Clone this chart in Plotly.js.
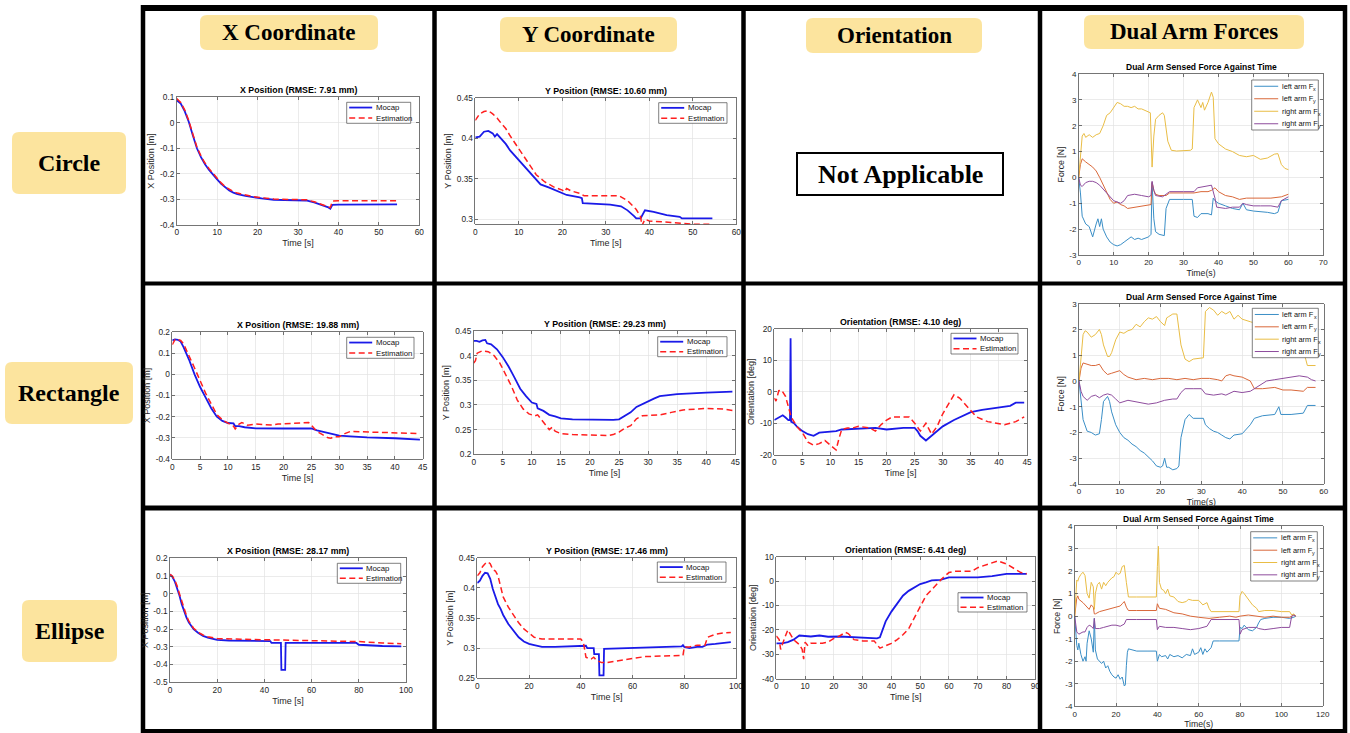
<!DOCTYPE html>
<html><head><meta charset="utf-8">
<script src="https://cdn.plot.ly/plotly-3.0.1.min.js"></script>
<style>html,body{margin:0;padding:0;background:#fff;overflow:hidden}#chart{width:1350px;height:733px}</style>
</head><body><div id="chart"></div>
<script>
// ---------- DATA ----------
const columnHeaders = ['X Coordinate', 'Y Coordinate', 'Orientation', 'Dual Arm Forces'];
const rowLabels = ['Circle', 'Rectangle', 'Ellipse'];
const notApplicableText = 'Not Applicable';
const seriesNames = ['Mocap', 'Estimation'];
const forceNames = ['left arm F', 'left arm F', 'right arm F', 'right arm F'];
const forceSubs = ['x', 'y', 'x', 'y'];
const panelTitles = [
  'X Position (RMSE: 7.91 mm)', 'Y Position (RMSE: 10.60 mm)', 'Dual Arm Sensed Force Against Time',
  'X Position (RMSE: 19.88 mm)', 'Y Position (RMSE: 29.23 mm)', 'Orientation (RMSE: 4.10 deg)', 'Dual Arm Sensed Force Against Time',
  'X Position (RMSE: 28.17 mm)', 'Y Position (RMSE: 17.46 mm)', 'Orientation (RMSE: 6.41 deg)', 'Dual Arm Sensed Force Against Time'
];

// Circle - X
const circX_t = [0,1,2,3,4,5,6,7,8,9,10,11,12,13,14,15,17,19,21,24,28,32,34,36,37.5,38,38.5,40,45,50,54.5];
const circX_mocap = [0.088,0.075,0.045,0.003,-0.05,-0.1,-0.135,-0.163,-0.185,-0.205,-0.222,-0.24,-0.255,-0.266,-0.274,-0.28,-0.287,-0.293,-0.297,-0.302,-0.304,-0.305,-0.312,-0.322,-0.332,-0.337,-0.322,-0.321,-0.32,-0.32,-0.32];
const circX_est = [0.095,0.08,0.05,0.008,-0.045,-0.095,-0.13,-0.158,-0.18,-0.2,-0.218,-0.236,-0.251,-0.262,-0.27,-0.276,-0.284,-0.29,-0.294,-0.299,-0.301,-0.302,-0.31,-0.32,-0.33,-0.333,-0.307,-0.306,-0.306,-0.306,-0.306];
// Circle - Y
const circY_mocap_t = [0,1,2,3,4,4.5,5,6,7,8,10,12,14,15,17,19,21,24,24.5,24.7,28,31,33.5,35,36.5,37,38,38.5,39,41,44,47,47.5,54.5];
const circY_mocap = [0.401,0.402,0.408,0.409,0.406,0.402,0.405,0.399,0.393,0.385,0.373,0.36,0.348,0.343,0.339,0.334,0.33,0.327,0.326,0.32,0.319,0.318,0.316,0.311,0.304,0.301,0.301,0.306,0.311,0.309,0.305,0.303,0.301,0.301];
const circY_est_t = [0,1,2,3,4,5,6,7,8,10,12,14,16,18,20,20.5,21,22,24,25,28,33,35,37,38,38.3,39,40,45,50,54.5];
const circY_est = [0.422,0.43,0.433,0.434,0.43,0.425,0.418,0.412,0.403,0.387,0.37,0.355,0.346,0.34,0.336,0.334,0.338,0.335,0.332,0.329,0.329,0.329,0.323,0.312,0.303,0.292,0.3,0.298,0.296,0.294,0.294];
// Circle - forces
const circF_lfx_t = [0,0.5,1,2,3,4,5,5.5,6,6.5,7,8,9,10,11,12,13,14,15,16,17,18,19,20,20.7,21,21.5,22,23,24.5,25,26,30,32.5,33,34,35,37,38,38.5,39,40,42,44,46,47,48,50,54,56,57,58,60];
const circF_lfx = [0,-0.6,-1.5,-1.8,-1.9,-2.3,-1.8,-1.6,-1.9,-1.6,-2.0,-2.3,-2.5,-2.6,-2.65,-2.6,-2.5,-2.4,-2.3,-2.4,-2.35,-2.4,-2.35,-2.3,-2.2,-0.2,-1.6,-2.1,-2.2,-2.25,-1.2,-0.85,-0.85,-0.85,-1.5,-1.55,-1.4,-1.4,-1.45,-0.8,-0.9,-1.0,-1.1,-1.2,-1.25,-1.0,-1.25,-1.3,-1.35,-1.4,-1.35,-0.9,-0.85];
const circF_lfy_t = [0,0.5,1,2,4,5,6,7,8,9,10,11,12,13,14,16,18,20,20.7,21,21.5,22,23,25,26,30,33,35,37,38,39,40,42,44,46,48,50,52,55,58,59,60];
const circF_lfy = [0,0.5,0.72,0.6,0.4,0.25,0,-0.3,-0.6,-0.85,-1.0,-0.95,-1.05,-1.1,-1.2,-1.15,-1.1,-1.05,-1.05,-0.2,-0.5,-0.65,-0.7,-0.7,-0.6,-0.6,-0.6,-0.55,-0.55,-0.5,-0.4,-0.55,-0.7,-0.75,-0.85,-0.8,-0.8,-0.8,-0.8,-0.75,-0.7,-0.65];
const circF_rfx_t = [0,0.5,1,1.5,2,3,4,5,6,7,8,9,10,11,12,13,14,15,16,17,18,19,20,20.5,21,21.5,22,23,24,24.5,25.5,26.5,28,32,32.5,33,34,35,35.5,36,37,38,38.5,39,40,42,44,46,48,50,52,54,56,57,58,59,60];
const circF_rfx = [0,1.0,1.6,1.7,1.55,1.65,1.55,1.65,1.7,2.0,2.4,2.5,2.7,2.9,2.85,2.75,2.75,2.7,2.75,2.65,2.65,2.6,2.55,2.5,0.4,1.6,2.25,2.4,2.5,2.4,1.4,1.05,1.02,1.05,1.1,2.7,3.0,2.7,2.9,2.6,2.9,3.3,3.1,1.5,1.3,1.1,1.0,0.85,0.8,0.85,0.7,0.75,0.9,0.92,0.5,0.35,0.3];
const circF_rfy_t = [0,0.5,1,2,3,4,5,6,8,10,12,13,14,16,18,20,20.7,21,21.5,22,24,25,26,30,33,34,36,38,39,39.5,42,44,46,47,48,50,52,55,57,58,60];
const circF_rfy = [0,-0.3,-0.35,-0.2,-0.15,-0.15,-0.2,-0.3,-0.6,-0.9,-1.0,-0.9,-0.7,-0.65,-0.7,-0.75,-0.7,-0.15,-0.5,-0.7,-0.75,-0.65,-0.55,-0.55,-0.55,-0.4,-0.35,-0.3,-0.8,-1.15,-1.2,-1.15,-1.15,-1.0,-1.05,-1.1,-1.1,-1.1,-1.15,-0.9,-0.75];

// Rectangle - X
const rectX_mocap_t = [0,0.5,1,1.5,2,3,4,5,6,7,8,9,10,11,11.3,12,13,15,20,25,26,28,30,32,35,40,44.5];
const rectX_mocap = [0.16,0.165,0.163,0.155,0.13,0.07,0.0,-0.06,-0.11,-0.16,-0.2,-0.22,-0.23,-0.232,-0.245,-0.245,-0.25,-0.255,-0.256,-0.256,-0.265,-0.277,-0.29,-0.293,-0.298,-0.302,-0.308];
const rectX_est_t = [0,0.5,1,1.5,2,3,4,5,6,7,8,9,10,11,11.3,12,12.5,13.5,15,18,19,22,24.5,25,26,27,28,28.5,29,30,31,32,35,40,44.5];
const rectX_est = [0.14,0.165,0.165,0.16,0.145,0.09,0.03,-0.03,-0.09,-0.14,-0.19,-0.215,-0.23,-0.245,-0.258,-0.235,-0.228,-0.24,-0.235,-0.24,-0.235,-0.233,-0.228,-0.24,-0.27,-0.285,-0.3,-0.302,-0.295,-0.295,-0.28,-0.27,-0.272,-0.275,-0.28];
// Rectangle - Y
const rectY_mocap_t = [0,0.5,1,1.5,2,2.3,3,4,5,6,7,8,9,10,10.8,11,12,13,14,15,17,20,24,25,26,27,28,29,30,31,32,35,40,44.5];
const rectY_mocap = [0.43,0.43,0.428,0.431,0.432,0.425,0.423,0.413,0.397,0.378,0.356,0.333,0.318,0.305,0.302,0.293,0.288,0.28,0.277,0.273,0.271,0.27,0.27,0.271,0.278,0.285,0.296,0.302,0.308,0.313,0.318,0.322,0.325,0.327];
const rectY_est_t = [0,0.3,0.6,1.5,2.5,3.5,4.5,5.5,6.5,7.5,8.5,9.5,10.5,11,12,12.5,13,13.5,14,15,17,20,23,24,25,26,27,28,29,30,32,34,36,40,43,44.5];
const rectY_est = [0.385,0.39,0.405,0.41,0.408,0.4,0.385,0.362,0.338,0.31,0.292,0.282,0.278,0.28,0.265,0.256,0.25,0.255,0.247,0.242,0.24,0.239,0.238,0.24,0.245,0.253,0.258,0.272,0.278,0.279,0.28,0.285,0.29,0.293,0.292,0.289];
// Rectangle - Orientation
const rectO_mocap_t = [0,0.5,1,1.5,2,2.5,2.8,2.9,3.0,3.5,4,5,6,7,8,9,10,11,12,15,18,20,23,25,25.5,26,27,28,29,30,32,34,35,37,40,42,43,44.5];
const rectO_mocap = [-9,-8.5,-7.8,-7.5,-8.2,-9,-9,17,-9.5,-10,-11,-12.5,-13.5,-14,-13,-12.8,-12.5,-12.5,-12,-11.8,-11.5,-12,-11.5,-11.5,-12.5,-14,-15.5,-14,-12.5,-11,-9,-7.5,-6.5,-5.8,-5,-4.5,-3.5,-3.5];
const rectO_est_t = [0,0.3,0.8,1.3,2,2.5,3,4,5,6,7,8,9,10,11,11.5,12,13,14,15,17,18,19,20,21,24,25,26,27,28,29,30,31,32,33,34,36,38,41,43,44.5];
const rectO_est = [-2,-3,0.3,0.5,-1.5,-5,-8,-11,-13,-16,-17,-16.5,-15.5,-17,-18.5,-15,-12,-11.5,-11.5,-11,-11.5,-12.5,-10.5,-9,-8,-8,-10,-12.5,-10,-13.5,-11,-7,-4,-1,-2,-4,-8,-9.5,-10.5,-9.5,-8];
// Rectangle - forces
const rectF_lfx_t = [0,0.5,1,2,3,4,5,5.5,6,7,7.5,8,9,10,11,12,13,14,15,16,17,18,19,20,20.5,21,21.5,22,23,24,24.5,25,26,27,28,30.5,31,32,33,34,35,36,37,38,40,42,43,45,48,49,49.5,52,55,56,58];
const rectF_lfx = [0,-0.8,-1.5,-1.95,-2.0,-2.1,-2.05,-1.5,-0.8,-0.6,-0.8,-1.2,-1.7,-2.0,-2.2,-2.3,-2.45,-2.55,-2.7,-2.8,-2.95,-3.1,-3.3,-3.35,-3.3,-3.0,-3.35,-3.35,-3.45,-3.4,-3.3,-2.2,-1.5,-1.3,-1.45,-1.45,-1.7,-1.85,-1.95,-2.0,-2.1,-2.2,-2.25,-2.1,-2.05,-1.7,-1.45,-1.35,-1.3,-1.0,-1.3,-1.3,-1.25,-0.95,-0.95];
const rectF_lfy_t = [0,0.5,1,2,3,4,5,6,7,8,9,10,11,12,14,16,18,20,22,24,26,28,30,32,34,35,36,37,38,40,42,43,45,48,50,52,55,56,58];
const rectF_lfy = [0,0.5,0.7,0.65,0.6,0.6,0.65,0.4,0.25,0.3,0.35,0.4,0.25,0.15,0.05,0.1,0.05,0.1,0.1,0.05,0.1,0.05,0.1,0.1,0.05,0.0,0.2,0.25,0.2,0.15,0.0,-0.3,-0.3,-0.25,-0.35,-0.35,-0.4,-0.25,-0.25];
const rectF_rfx_t = [0,0.5,1,1.5,2,3,3.5,4,5,5.5,6,7,7.5,8,9,10,11,12,13,14,15,16,17,18,19,20,21,21.5,22,23,24,25,26,27,28,30.5,31,32,33,34,35,36,37,38,39,40,42,44,48,52,55,56,58];
const rectF_rfx = [0,1.0,1.8,1.95,1.9,1.7,1.75,1.8,2.0,1.8,1.4,0.95,0.95,1.1,1.6,1.9,1.85,1.95,2.0,2.2,2.1,2.3,2.45,2.4,2.5,2.3,2.15,2.45,2.5,2.6,2.6,1.4,0.85,0.75,0.85,0.9,2.7,2.85,2.75,2.55,2.7,2.6,2.7,2.4,2.55,2.4,2.3,2.2,2.0,1.8,1.2,0.6,0.6];
const rectF_rfy_t = [0,0.5,1,2,3,4,5,6,7,8,9,10,12,14,16,17,19,21,23,24,25,26,28,30,31,33,35,36,38,40,42,44,46,48,50,52,54,56,57,58];
const rectF_rfy = [0,-0.4,-0.6,-0.75,-0.6,-0.55,-0.65,-0.55,-0.5,-0.55,-0.7,-0.85,-0.75,-0.8,-0.85,-0.9,-0.85,-0.75,-0.7,-0.7,-0.45,-0.3,-0.3,-0.3,-0.5,-0.55,-0.5,-0.55,-0.4,-0.45,-0.4,-0.2,0.0,0.05,0.1,0.15,0.2,0.15,0.05,0.0];

// Ellipse - X
const ellX_mocap_t = [0,1,2,3,4,5,6,7,8,9,10,12,14,16,18,20,25,30,35,40,42.5,43,47,47.2,48.8,49,60,70,79,80,85,90,98];
const ellX_mocap = [0.11,0.095,0.07,0.035,-0.01,-0.06,-0.1,-0.135,-0.163,-0.185,-0.2,-0.222,-0.238,-0.248,-0.255,-0.26,-0.264,-0.265,-0.265,-0.265,-0.267,-0.278,-0.278,-0.43,-0.43,-0.278,-0.278,-0.278,-0.278,-0.288,-0.292,-0.295,-0.297];
const ellX_est_t = [0,1,2,3,4,5,6,7,8,9,10,12,14,16,18,20,30,40,50,60,70,80,90,98];
const ellX_est = [0.11,0.1,0.078,0.045,0.0,-0.045,-0.088,-0.125,-0.155,-0.178,-0.195,-0.218,-0.233,-0.243,-0.249,-0.253,-0.257,-0.26,-0.263,-0.265,-0.267,-0.27,-0.278,-0.282];
// Ellipse - Y
const ellY_mocap_t = [0,1,2,3,4,5,6,7,8,9,10,12,14,16,18,20,22,25,30,35,40,42,42.5,45,45.2,47,47.2,48.8,49,55,60,70,79,79.5,80,82,85,87,89,92,95,98];
const ellY_mocap = [0.408,0.412,0.42,0.425,0.424,0.415,0.398,0.385,0.373,0.365,0.355,0.34,0.328,0.318,0.311,0.307,0.305,0.302,0.302,0.303,0.304,0.304,0.3,0.3,0.29,0.29,0.255,0.255,0.299,0.3,0.301,0.302,0.303,0.305,0.302,0.3,0.302,0.302,0.306,0.307,0.309,0.31];
const ellY_est_t = [0,1,2,3,4,5,6,7,8,9,10,12,14,16,18,20,22,25,30,35,40,41,42,43,44,45,46,47,48,50,55,60,65,70,79.5,80,82,85,88,89,92,95,98];
const ellY_est = [0.42,0.425,0.435,0.44,0.443,0.44,0.43,0.428,0.42,0.4,0.385,0.368,0.355,0.342,0.332,0.325,0.318,0.315,0.315,0.315,0.315,0.31,0.285,0.283,0.282,0.285,0.28,0.278,0.276,0.276,0.28,0.283,0.286,0.287,0.288,0.302,0.302,0.305,0.305,0.318,0.323,0.325,0.326];
// Ellipse - Orientation
const ellO_mocap_t = [0,2,4,6,8,10,12,15,18,22,26,30,34,35,36,37,38,40,42,44,46,48,50,52,54,57,60,65,70,75,80,87];
const ellO_mocap = [-25.5,-25.5,-25,-24,-22.3,-22.5,-22.7,-22.3,-22.8,-22.7,-23,-23,-23.3,-23.5,-23,-20,-16.5,-12.5,-9,-6,-4,-2.5,-1.2,-0.5,0.3,0.5,1.5,1.5,1.5,2,3,3];
const ellO_est_t = [0,1,1.5,2,3,4,5,6,7,8,9,9.5,10,11,12,16,18,20,22,24,25,27,30,34,35,36,38,40,42,44,46,48,50,52,54,56,58,60,62,65,68,70,74,77,80,85,87];
const ellO_est = [-22.5,-24,-28,-26,-23,-20,-22,-24,-25,-26,-28,-32,-25,-26.5,-25.5,-25.5,-25,-23.5,-22.5,-21,-21.5,-24,-24.5,-24.5,-26,-27.5,-26.5,-25.5,-24,-22,-19.5,-15,-10,-6,-3.5,-1,1.5,3.5,4,4,4,5.5,7,8.3,7,3.5,3];
// Ellipse - forces
const ellF_lfx_t = [0,0.5,1,1.5,2,3,4,5,5.5,6,7,8,9,9.5,10,11,12,13,14,15,16,17,18,19,20,21,22,23,24,24.5,25,25.5,26,30,35,39.5,40,41,42,44,45,46,48,50,52,54,56,57,58,60,61,62,63,64,66,67,70,75,79.5,80,81,82,84,86,88,89,90,92,96,100,104,106,107];
const ellF_lfx = [0,-0.8,-1.3,-1.5,-1.2,-1.7,-2.0,-1.8,-2.0,-1.2,-0.65,-1.0,-1.6,-0.1,-1.5,-1.9,-2.0,-2.1,-2.0,-2.3,-2.2,-2.45,-2.6,-2.7,-2.75,-2.6,-2.8,-2.7,-3.1,-3.05,-2.2,-1.6,-1.45,-1.55,-1.55,-1.55,-2.0,-1.7,-1.8,-1.75,-1.9,-1.7,-1.8,-1.75,-1.85,-1.7,-1.75,-1.45,-1.7,-1.6,-1.4,-1.7,-1.45,-1.6,-1.4,-1.1,-1.1,-1.1,-1.1,-0.5,-0.55,-0.4,-0.6,-0.65,-0.5,-0.3,-0.15,-0.1,-0.05,-0.05,-0.1,-0.05,0.0];
const ellF_lfy_t = [0,0.5,1,1.5,2,4,6,7,8,9,9.5,10,12,14,16,18,20,22,23,24,25,26,30,35,39.5,40,41,44,48,52,56,60,65,70,75,78,80,84,88,92,96,100,104,106,107];
const ellF_lfy = [0,0.4,0.8,0.9,0.75,0.6,0.4,0.3,0.5,0.4,0.1,0.1,0.2,0.25,0.3,0.35,0.4,0.45,0.55,0.65,0.4,0.25,0.25,0.25,0.25,0.55,0.35,0.3,0.15,0.1,0.0,-0.05,-0.1,-0.05,0.0,-0.05,0.0,0.05,0.0,-0.05,0.0,-0.05,-0.05,0.05,0.0];
const ellF_rfx_t = [0,0.5,1,1.5,2,3,4,5,6,7,8,9,9.5,10,11,12,13,14,15,16,17,18,19,20,21,22,23,24,25,26,30,35,39.5,40,40.5,41,42,43,44,45,46,48,50,52,54,55,57,60,62,64,65,66,70,75,79.5,80,81,82,84,86,88,89,92,96,100,104,105,106,107];
const ellF_rfx = [0,1.0,1.6,1.55,1.7,1.85,1.95,1.8,1.0,0.8,1.5,1.3,0.3,1.0,1.4,1.5,1.2,1.5,1.35,1.5,1.6,1.7,1.75,1.95,1.85,1.9,2.2,2.25,1.5,0.85,0.85,0.85,0.85,2.2,3.1,1.5,1.2,1.15,1.0,1.2,0.9,0.85,0.65,0.6,0.65,0.75,0.7,0.7,0.5,0.6,0.35,0.2,0.2,0.2,0.2,0.9,1.1,1.0,0.75,0.5,0.35,0.2,0.25,0.25,0.2,0.2,0.05,0.1,0.0];
const ellF_rfy_t = [0,0.5,1,2,3,4,5,6,7,8,9,9.5,10,12,14,16,18,20,22,24,25,30,35,39.5,40,41,44,48,52,56,60,64,66,70,75,79.5,80,81,84,88,89,92,96,100,104,105,106,107];
const ellF_rfy = [0,-0.5,-0.7,-0.8,-0.75,-0.7,-0.7,-0.5,-0.4,-0.45,-0.55,-0.1,-0.55,-0.55,-0.5,-0.45,-0.4,-0.4,-0.45,-0.35,-0.15,-0.15,-0.15,-0.15,-0.6,-0.45,-0.5,-0.5,-0.55,-0.6,-0.55,-0.45,-0.15,-0.15,-0.15,-0.15,-0.8,-0.6,-0.5,-0.5,-0.55,-0.6,-0.55,-0.5,-0.5,0.0,0.05,0.0];

// ---------- LAYOUT HELPERS ----------
const W = 1350, H = 733;
const px = x => x / W, py = y => 1 - y / H;
const SANS = 'Liberation Sans, Arial, sans-serif';
const SERIF = 'Liberation Serif, Times New Roman, serif';
const MOCAP_LINE = {color: '#1a1ae8', width: 1.8};
const EST_LINE = {color: '#ff1f1f', width: 1.5, dash: '6px,3.5px'};
const FORCE_COLORS = ['#3a8ec6', '#d9683a', '#e9bd45', '#8e4c9d'];

const panels = [
  {box:[176.7,97.3,419.3,224.7], xr:[0,60], xd:10, yr:[-0.4,0.1], yd:0.1, xt:'Time [s]', yt:'X Position [m]', leg:[346.7,102.3,410.7,123.3], fs:8.3},
  {box:[475.3,97.7,736.3,224.3], xr:[0,60], xd:10, yr:[0.2938,0.45], yd:0.05, xt:'Time [s]', yt:'Y Position [m]', leg:[658.7,102.7,727,123.3], fs:8.3},
  {box:[1078.7,74,1323.3,255], xr:[0,70], xd:10, yr:[-3,4], yd:1, xt:'Time(s)', yt:'Force [N]', leg:[1251.7,80,1318.3,130], fs:8, force:true},
  {box:[172.3,332,422.7,459], xr:[0,45], xd:5, yr:[-0.4,0.2], yd:0.1, xt:'Time [s]', yt:'X Position [m]', leg:[346.7,337.3,414,358.3], fs:8.3},
  {box:[473.7,331,735.3,454.3], xr:[0,45], xd:5, yr:[0.2,0.45], yd:0.05, xt:'Time [s]', yt:'Y Position [m]', leg:[657.7,336.7,727,356.7], fs:8.3},
  {box:[774.3,328.7,1027,454.7], xr:[0,45], xd:5, yr:[-20,20], yd:10, xt:'Time [s]', yt:'Orientation [deg]', leg:[951,333.3,1018,354], fs:8.3},
  {box:[1079,303.7,1323.7,484], xr:[0,60], xd:10, yr:[-4,3], yd:1, xt:'Time(s)', yt:'Force [N]', leg:[1252.3,308.3,1318.3,357.7], fs:8, force:true},
  {box:[170,558.3,406,682.3], xr:[0,100], xd:20, yr:[-0.5,0.2], yd:0.1, xt:'Time [s]', yt:'X Position [m]', leg:[337.3,563.3,400.7,583.3], fs:8.3},
  {box:[477.3,557.7,736,678.3], xr:[0,100], xd:20, yr:[0.25,0.45], yd:0.05, xt:'Time [s]', yt:'Y Position [m]', leg:[657.3,562,726,582.3], fs:8.3},
  {box:[776.3,556.7,1035.3,678.7], xr:[0,90], xd:10, yr:[-40,10], yd:10, xt:'Time [s]', yt:'Orientation [deg]', leg:[958,592.7,1027,612], fs:8.3},
  {box:[1074.7,526,1322.7,706.3], xr:[0,120], xd:20, yr:[-4,4], yd:1, xt:'Time(s)', yt:'Force [N]', leg:[1250.7,531.7,1317.3,581], fs:8, force:true}
];

const posSeries = [
  [0, circX_t, circX_mocap, circX_t, circX_est],
  [1, circY_mocap_t, circY_mocap, circY_est_t, circY_est],
  [3, rectX_mocap_t, rectX_mocap, rectX_est_t, rectX_est],
  [4, rectY_mocap_t, rectY_mocap, rectY_est_t, rectY_est],
  [5, rectO_mocap_t, rectO_mocap, rectO_est_t, rectO_est],
  [7, ellX_mocap_t, ellX_mocap, ellX_est_t, ellX_est],
  [8, ellY_mocap_t, ellY_mocap, ellY_est_t, ellY_est],
  [9, ellO_mocap_t, ellO_mocap, ellO_est_t, ellO_est]
];
const forceSeries = [
  [2, [[circF_lfx_t,circF_lfx],[circF_lfy_t,circF_lfy],[circF_rfx_t,circF_rfx],[circF_rfy_t,circF_rfy]]],
  [6, [[rectF_lfx_t,rectF_lfx],[rectF_lfy_t,rectF_lfy],[rectF_rfx_t,rectF_rfx],[rectF_rfy_t,rectF_rfy]]],
  [10, [[ellF_lfx_t,ellF_lfx],[ellF_lfy_t,ellF_lfy],[ellF_rfx_t,ellF_rfx],[ellF_rfy_t,ellF_rfy]]]
];

const sfx = i => (i === 0 ? '' : String(i + 1));
const traces = [], shapes = [], annotations = [];
const layout = {
  width: W, height: H, margin: {l:0, r:0, t:0, b:0, pad:0},
  paper_bgcolor: '#fff', plot_bgcolor: '#fff', showlegend: false,
  font: {family: SANS, color: '#262626'}
};

const measureCtx = document.createElement('canvas').getContext('2d');
function textWidth(t, size) { measureCtx.font = size + 'px "Liberation Sans", Arial, sans-serif'; return measureCtx.measureText(t).width; }

function ticks(range, d) {
  const vals = [];
  for (let k = Math.ceil(range[0] / d - 1e-6); k * d <= range[1] + 1e-9; k++) vals.push(Math.round(k * d * 1000) / 1000);
  return vals;
}
function axis(range, d, title, dom, anchor, fs) {
  const vals = ticks(range, d);
  return {
    domain: dom, anchor: anchor, range: range, autorange: false, fixedrange: true,
    tickmode: 'array', tickvals: vals, ticktext: vals.map(v => String(v)),
    showgrid: true, gridcolor: '#e2e2e2', gridwidth: 0.7, zeroline: false,
    showline: true, linecolor: '#3a3a3a', linewidth: 0.7, mirror: 'ticks',
    ticks: 'inside', ticklen: 3, tickwidth: 0.7, tickcolor: '#3a3a3a',
    tickfont: {family: SANS, size: fs, color: '#262626'},
    title: {text: title, font: {family: SANS, size: fs + 0.7, color: '#262626'}, standoff: 3},
    automargin: false
  };
}

panels.forEach((p, i) => {
  const [x0, y0, x1, y1] = p.box;
  layout['xaxis' + sfx(i)] = axis(p.xr, p.xd, p.xt, [px(x0), px(x1)], 'y' + sfx(i), p.fs);
  layout['yaxis' + sfx(i)] = axis(p.yr, p.yd, p.yt, [py(y1), py(y0)], 'x' + sfx(i), p.fs);
  annotations.push({
    xref: 'x' + sfx(i) + ' domain', yref: 'y' + sfx(i) + ' domain', x: 0.5, y: 1,
    xanchor: 'center', yanchor: 'bottom', showarrow: false,
    text: '<b>' + panelTitles[i] + '</b>', font: {family: SANS, size: p.force ? 8.5 : 8.8, color: '#000'}
  });
});

function addLegend(box, entries, fs, len) {
  const [x0, y0, x1, y1] = box;
  shapes.push({type: 'rect', xref: 'paper', yref: 'paper', x0: px(x0), x1: px(x1), y0: py(y1), y1: py(y0),
    fillcolor: '#fff', line: {color: '#4a4a4a', width: 0.7}, layer: 'above'});
  const rh = (y1 - y0) / entries.length;
  entries.forEach((en, k) => {
    const yc = y0 + rh * (k + 0.5);
    const tx = x0 + len + 5;
    shapes.push({type: 'line', xref: 'paper', yref: 'paper', x0: px(x0 + 2.5), x1: px(x0 + 2.5 + len), y0: py(yc), y1: py(yc),
      line: {color: en.line.color, width: en.line.width, dash: en.line.dash || 'solid'}, layer: 'above'});
    annotations.push({xref: 'paper', yref: 'paper', x: px(tx), y: py(yc), xanchor: 'left', yanchor: 'middle',
      showarrow: false, text: en.name, font: {family: SANS, size: fs, color: '#111'}, borderpad: 0});
    if (en.sub) {
      const sx = tx + textWidth(en.name, fs) + 0.3;
      annotations.push({xref: 'paper', yref: 'paper', x: px(sx), y: py(yc + 2.4), xanchor: 'left', yanchor: 'middle',
        showarrow: false, text: en.sub, font: {family: SANS, size: fs * 0.72, color: '#111'}, borderpad: 0});
    }
  });
}

posSeries.forEach(([i, tm, m, te, e]) => {
  traces.push({x: tm, y: m, xaxis: 'x' + sfx(i), yaxis: 'y' + sfx(i), type: 'scatter', mode: 'lines', name: seriesNames[0], line: MOCAP_LINE, hoverinfo: 'skip'});
  traces.push({x: te, y: e, xaxis: 'x' + sfx(i), yaxis: 'y' + sfx(i), type: 'scatter', mode: 'lines', name: seriesNames[1], line: EST_LINE, hoverinfo: 'skip'});
  addLegend(panels[i].leg, [
    {name: seriesNames[0], line: MOCAP_LINE},
    {name: seriesNames[1], line: EST_LINE}
  ], 7.8, 23);
});
forceSeries.forEach(([i, list]) => {
  list.forEach(([t, v], k) => {
    traces.push({x: t, y: v, xaxis: 'x' + sfx(i), yaxis: 'y' + sfx(i), type: 'scatter', mode: 'lines', name: forceNames[k] + ' ' + forceSubs[k], line: {color: FORCE_COLORS[k], width: 1}, hoverinfo: 'skip'});
  });
  addLegend(panels[i].leg, forceNames.map((n, k) => ({name: n, sub: forceSubs[k], line: {color: FORCE_COLORS[k], width: 1}})), 7.4, 24);
});

function rrPath(x0, y0, x1, y1, r) {
  const P = (x, y) => px(x).toFixed(6) + ',' + py(y).toFixed(6);
  return 'M' + P(x0 + r, y0) + ' L' + P(x1 - r, y0) + ' Q' + P(x1, y0) + ' ' + P(x1, y0 + r) +
    ' L' + P(x1, y1 - r) + ' Q' + P(x1, y1) + ' ' + P(x1 - r, y1) +
    ' L' + P(x0 + r, y1) + ' Q' + P(x0, y1) + ' ' + P(x0, y1 - r) +
    ' L' + P(x0, y0 + r) + ' Q' + P(x0, y0) + ' ' + P(x0 + r, y0) + ' Z';
}
const headerBoxes = [[200,15,378,50],[500,17,677,52],[806,18,982,53],[1084,15,1304,49]];
const rowBoxes = [[12,132,126,194],[5,362,133,424],[22,600,117,662]];
function labelBox(b, text, size) {
  shapes.push({type: 'path', xref: 'paper', yref: 'paper', path: rrPath(b[0], b[1], b[2], b[3], 7),
    fillcolor: '#fce49e', line: {width: 0}, layer: 'below'});
  annotations.push({xref: 'paper', yref: 'paper', x: px((b[0] + b[2]) / 2), y: py((b[1] + b[3]) / 2),
    xanchor: 'center', yanchor: 'middle', showarrow: false, text: '<b>' + text + '</b>',
    font: {family: SERIF, size: size, color: '#000'}});
}
columnHeaders.forEach((t, k) => labelBox(headerBoxes[k], t, 23));
rowLabels.forEach((t, k) => labelBox(rowBoxes[k], t, 24));

shapes.push({type: 'rect', xref: 'paper', yref: 'paper', x0: px(797), x1: px(1003), y0: py(195), y1: py(153),
  fillcolor: '#fff', line: {color: '#000', width: 2}, layer: 'above'});
annotations.push({xref: 'paper', yref: 'paper', x: px(900), y: py(174.5), xanchor: 'center', yanchor: 'middle',
  showarrow: false, text: '<b>' + notApplicableText + '</b>', font: {family: SERIF, size: 26, color: '#000'}});

const vLines = [143, 434.5, 743.5, 1040, 1345];
const hLines = [[8, 6], [283.5, 4], [508, 5], [731, 4]];
vLines.forEach(x => shapes.push({type: 'line', xref: 'paper', yref: 'paper', x0: px(x), x1: px(x), y0: py(5), y1: py(733),
  line: {color: '#000', width: 4.5}, layer: 'above'}));
hLines.forEach(([y, w]) => shapes.push({type: 'line', xref: 'paper', yref: 'paper', x0: px(141), x1: px(1347), y0: py(y), y1: py(y),
  line: {color: '#000', width: w}, layer: 'above'}));

layout.shapes = shapes;
layout.annotations = annotations;
Plotly.newPlot('chart', traces, layout, {staticPlot: true, displayModeBar: false});
</script></body></html>
